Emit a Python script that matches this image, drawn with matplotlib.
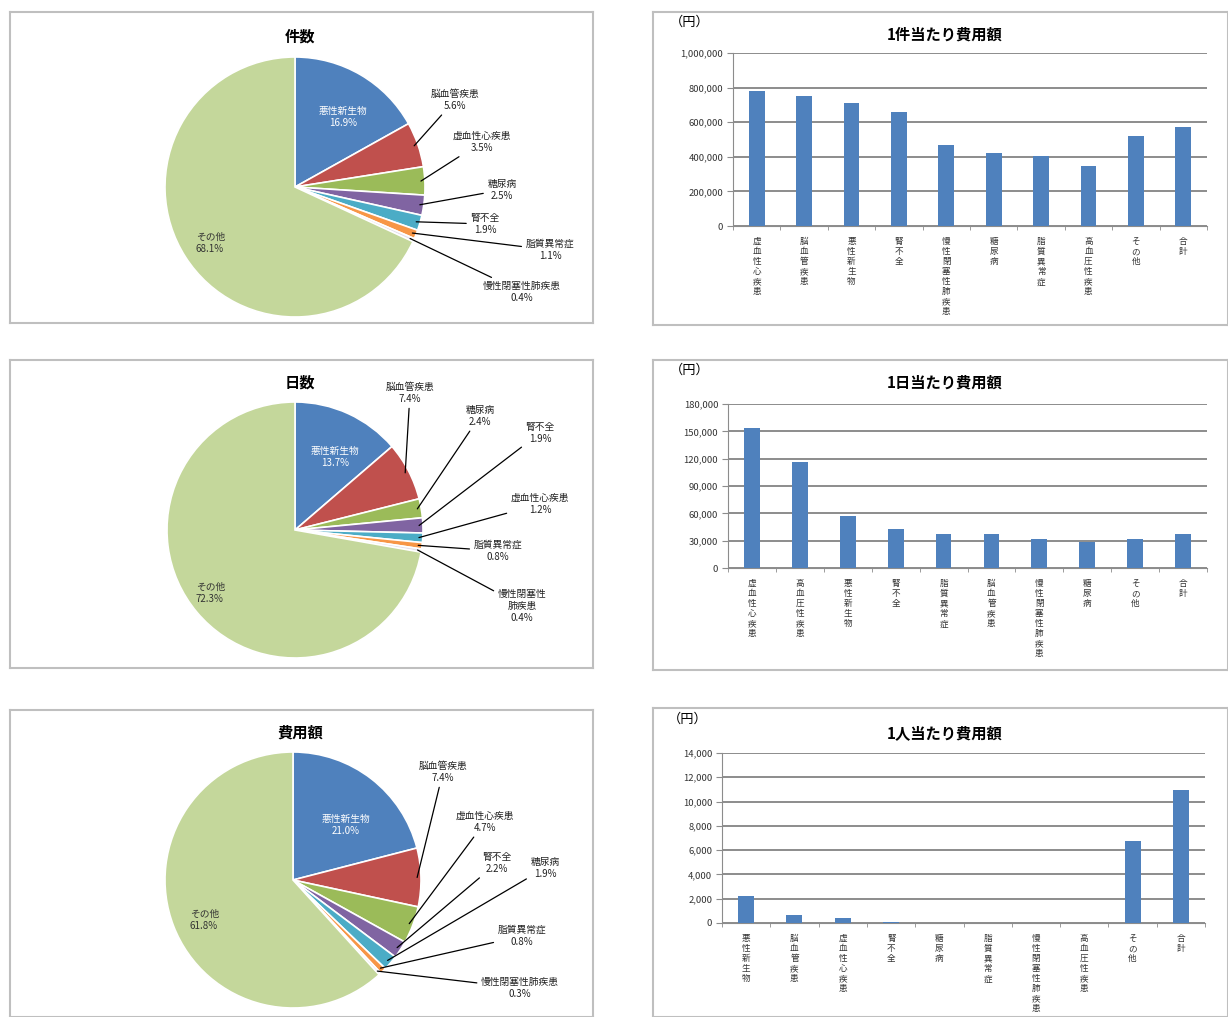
import matplotlib
matplotlib.use("Agg")
import matplotlib.pyplot as plt
import numpy as np

plt.rcParams['font.family'] = ['Noto Sans CJK JP', 'DejaVu Sans']

W, H = 1228, 1017

# ---- pie data ----
count_labels = ['悪性新生物', '脳血管疾患', '虚血性心疾患', '糖尿病', '腎不全', '脂質異常症', '慢性閉塞性肺疾患', 'その他']
count_values = [16.9, 5.6, 3.5, 2.5, 1.9, 1.1, 0.4, 68.1]

days_labels = ['悪性新生物', '脳血管疾患', '糖尿病', '腎不全', '虚血性心疾患', '脂質異常症', '慢性閉塞性\n肺疾患', 'その他']
days_values = [13.7, 7.4, 2.4, 1.9, 1.2, 0.8, 0.4, 72.3]

cost_labels = ['悪性新生物', '脳血管疾患', '虚血性心疾患', '腎不全', '糖尿病', '脂質異常症', '慢性閉塞性肺疾患', 'その他']
cost_values = [21.0, 7.4, 4.7, 2.2, 1.9, 0.8, 0.3, 61.8]

pie_colors = ['#4F81BD', '#C0504D', '#9BBB59', '#8064A2', '#4BACC6', '#F79646', '#E4DFEC', '#C4D79B']

# ---- bar data ----
per_case_cats = ['虚血性心疾患', '脳血管疾患', '悪性新生物', '腎不全', '慢性閉塞性肺疾患', '糖尿病', '脂質異常症', '高血圧性疾患', 'その他', '合計']
per_case_vals = [782000, 751000, 709000, 661000, 469000, 421000, 402000, 345000, 521000, 575000]

per_day_cats = ['虚血性心疾患', '高血圧性疾患', '悪性新生物', '腎不全', '脂質異常症', '脳血管疾患', '慢性閉塞性肺疾患', '糖尿病', 'その他', '合計']
per_day_vals = [154000, 116000, 57500, 43000, 37500, 37000, 31300, 28700, 31300, 37000]

per_person_cats = ['悪性新生物', '脳血管疾患', '虚血性心疾患', '腎不全', '糖尿病', '脂質異常症', '慢性閉塞性肺疾患', '高血圧性疾患', 'その他', '合計']
per_person_vals = [2250, 690, 440, 110, 40, 20, 12, 6, 6750, 10950]


def fig_rect(x0, y0, x1, y1):
    return [x0 / W, 1 - y1 / H, (x1 - x0) / W, (y1 - y0) / H]


fig = plt.figure(figsize=(W / 100, H / 100), dpi=100)


def draw_pie(box, title, title_xy, center, radius, labels, values, label_pos):
    x0, y0, x1, y1 = box
    ax = fig.add_axes(fig_rect(x0, y0, x1, y1))
    wedges, _ = ax.pie(values, colors=pie_colors, startangle=90, counterclock=False,
                       center=(center[0], -center[1]), radius=radius, frame=True,
                       wedgeprops=dict(edgecolor='white', linewidth=1.2))
    ax.set_aspect('auto')
    ax.set_xlim(x0, x1)
    ax.set_ylim(-y1, -y0)
    ax.set_xticks([])
    ax.set_yticks([])
    for s in ax.spines.values():
        s.set_color('#BFBFBF')
        s.set_linewidth(1.5)
    ax.text(title_xy[0], -title_xy[1], title, ha='center', va='center',
            fontsize=11, fontweight='bold')
    for i, (w, lab, val) in enumerate(zip(wedges, labels, values)):
        txt = f'{lab}\n{val:.1f}%'
        tx, ty = label_pos[i]
        if i == 0:
            ax.text(tx, -ty, txt, ha='center', va='center', fontsize=7, color='white', linespacing=1.3)
        elif i == len(values) - 1:
            ax.text(tx, -ty, txt, ha='left', va='center', fontsize=7, color='#333333', linespacing=1.3)
        else:
            ang = np.deg2rad((w.theta1 + w.theta2) / 2)
            px = center[0] + radius * 0.97 * np.cos(ang)
            py = -center[1] + radius * 0.97 * np.sin(ang)
            ax.annotate(txt, xy=(px, py), xytext=(tx, -ty), ha='center', va='center',
                        fontsize=7, color='#222222', linespacing=1.3,
                        arrowprops=dict(arrowstyle='-', color='black', lw=0.9,
                                        shrinkA=1, shrinkB=0),
                        annotation_clip=False)
    return ax


draw_pie((10, 12, 593, 323), '件数', (300, 37), (295, 187), 130, count_labels, count_values,
         [(343, 117), (455, 100), (482, 142), (502, 190), (485, 224), (550, 250), (522, 292), (196, 243)])
draw_pie((10, 360, 593, 668), '日数', (300, 383), (295, 530), 128, days_labels, days_values,
         [(335, 457), (410, 393), (480, 416), (540, 433), (540, 504), (498, 551), (522, 606), (196, 593)])
draw_pie((10, 710, 593, 1017), '費用額', (300, 733), (293, 880), 128, cost_labels, cost_values,
         [(346, 825), (443, 772), (485, 822), (497, 863), (545, 868), (522, 936), (520, 988), (190, 920)])


def draw_bar(box, axbox, title, title_y, yen_xy, cats, vals, ymax, step):
    frame = fig.add_axes(fig_rect(*box))
    frame.set_xticks([])
    frame.set_yticks([])
    for s in frame.spines.values():
        s.set_color('#BFBFBF')
        s.set_linewidth(1.5)
    bw, bh = box[2] - box[0], box[3] - box[1]
    frame.text((yen_xy[0] - box[0]) / bw, 1 - (yen_xy[1] - box[1]) / bh,
               '（円）', ha='center', va='center', fontsize=9.5, transform=frame.transAxes)
    frame.text((945 - box[0]) / bw, 1 - (title_y - box[1]) / bh,
               title, ha='center', va='center', fontsize=11, fontweight='bold', transform=frame.transAxes)

    ax = fig.add_axes(fig_rect(*axbox))
    x = range(len(cats))
    ax.bar(x, vals, width=0.33, color='#4F81BD', zorder=3)
    ax.set_xlim(-0.5, len(cats) - 0.5)
    ax.set_ylim(0, ymax)
    ticks = list(range(0, ymax + 1, step))
    ax.set_yticks(ticks)
    ax.set_yticklabels([f'{t:,}' for t in ticks], fontsize=6.8, color='#333333')
    ax.yaxis.grid(True, color='#8C8C8C', linewidth=1.4, zorder=0)
    ax.set_xticks(list(x))
    ax.set_xticklabels(['\n'.join(c) for c in cats], fontsize=6.2, linespacing=1.15,
                       va='top', color='#333333')
    ax.set_xticks([i + 0.5 for i in range(-1, len(cats))], minor=True)
    ax.tick_params(axis='x', which='major', length=0, pad=8)
    ax.tick_params(axis='x', which='minor', length=3, color='#8C8C8C')
    ax.tick_params(axis='y', length=4, color='#8C8C8C', pad=3)
    for k in ('top', 'right'):
        ax.spines[k].set_visible(False)
    ax.spines['left'].set_color('#8C8C8C')
    ax.spines['bottom'].set_color('#8C8C8C')
    ax.set_facecolor('none')


draw_bar((653, 12, 1228, 325), (733, 53, 1207, 226), '1件当たり費用額', 35, (690, 22),
         per_case_cats, per_case_vals, 1000000, 200000)
draw_bar((653, 360, 1228, 670), (728, 404, 1207, 568), '1日当たり費用額', 383, (690, 370),
         per_day_cats, per_day_vals, 180000, 30000)
draw_bar((653, 708, 1228, 1017), (722, 753, 1205, 923), '1人当たり費用額', 733, (688, 719),
         per_person_cats, per_person_vals, 14000, 2000)

fig.savefig('out.png', dpi=100, facecolor='white')
